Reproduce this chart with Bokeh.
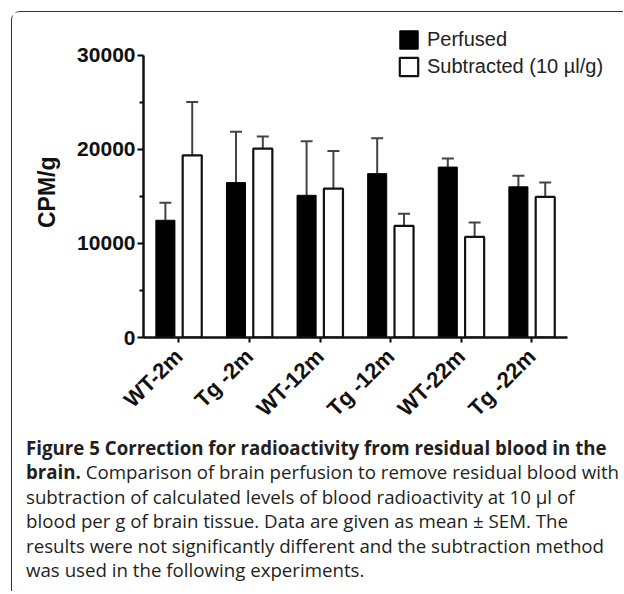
import math
from bokeh.plotting import figure
from bokeh.layouts import column
from bokeh.models import (ColumnDataSource, Range1d, FixedTicker, Legend, LegendItem,
                          Whisker, TeeHead, Div, Title)
from bokeh.transform import dodge
from bokeh.embed import file_html
from bokeh.resources import INLINE

# ---- data ----
groups = ["WT-2m", "Tg -2m", "WT-12m", "Tg -12m", "WT-22m", "Tg -22m"]
perfused = [12450, 16450, 15100, 17400, 18100, 16000]
perfused_sem = [1850, 5400, 5750, 3750, 920, 1170]
subtracted = [19350, 20050, 15800, 11850, 10680, 14930]
subtracted_sem = [5650, 1300, 4000, 1280, 1520, 1520]
y_ticks = [0, 10000, 20000, 30000]
y_minor = [5000, 15000, 25000]
y_label = "CPM/g"
series_names = ["Perfused", "Subtracted (10 \u00b5l/g)"]
caption_bold = ["Figure 5 Correction for radioactivity from residual blood in the", "brain."]
caption_lines = [
    "Comparison of brain perfusion to remove residual blood with",
    "subtraction of calculated levels of blood radioactivity at 10 \u00b5l of",
    "blood per g of brain tissue. Data are given as mean \u00b1 SEM. The",
    "results were not significantly different and the subtraction method",
    "was used in the following experiments.",
]

# group centres on a numeric axis (one unit per group)
xi = [i + 0.5 for i in range(len(groups))]

src = ColumnDataSource(dict(
    x=xi,
    p=perfused,
    p_hi=[v + e for v, e in zip(perfused, perfused_sem)],
    s=subtracted,
    s_hi=[v + e for v, e in zip(subtracted, subtracted_sem)],
))

W, H = 611, 424
p = figure(x_range=Range1d(0, 6.657), y_range=Range1d(0, 33240), width=W, height=H,
           min_border_left=131, min_border_right=10, min_border_top=12,
           min_border_bottom=99, output_backend="svg", toolbar_location=None,
           background_fill_color="white", border_fill_color="white")
p.outline_line_color = None
p.xgrid.grid_line_color = None
p.ygrid.grid_line_color = None

off = 0.19
bw = 0.27
r1 = p.vbar(x=dodge("x", -off), top="p", width=bw, source=src,
            fill_color="black", line_color="black", line_width=1)
r2 = p.vbar(x=dodge("x", off), top="s", width=bw, source=src,
            fill_color="white", line_color="#111111", line_width=2.2)

for col, hi, o in (("p", "p_hi", -off), ("s", "s_hi", off)):
    w = Whisker(base=dodge("x", o), lower=col, upper=hi, source=src,
                line_color="#444444", line_width=2,
                upper_head=TeeHead(size=12, line_color="#444444", line_width=2),
                lower_head=None)
    p.add_layout(w)

# axes
ax = p.yaxis[0]
ax.ticker = FixedTicker(ticks=y_ticks, minor_ticks=y_minor)
ax.bounds = (0, 30000)
ax.major_label_text_font = "Liberation Sans"
ax.major_label_text_font_style = "bold"
ax.major_label_text_font_size = "21px"
ax.major_label_text_color = "#111111"
ax.major_label_standoff = 2
ax.axis_line_width = 2.5
ax.axis_line_color = "#111111"
ax.major_tick_line_width = 2
ax.major_tick_out = 6
ax.major_tick_in = 0
ax.minor_tick_line_width = 2
ax.minor_tick_out = 4
ax.minor_tick_in = 0

xa = p.xaxis[0]
xa.ticker = FixedTicker(ticks=xi, minor_ticks=[])
xa.major_label_overrides = {x: g for x, g in zip(xi, groups)}
xa.bounds = (0, len(groups))
xa.major_label_orientation = math.pi / 4
xa.major_label_text_font = "Liberation Sans"
xa.major_label_text_font_style = "bold"
xa.major_label_text_font_size = "22px"
xa.major_label_text_color = "#111111"
xa.major_label_standoff = 10
xa.axis_line_width = 2.5
xa.axis_line_color = "#111111"
xa.major_tick_line_width = 2
xa.major_tick_out = 5
xa.major_tick_in = 0

# y-axis title placed in the left panel
p.add_layout(Title(text=y_label, align="right", offset=132, vertical_align="top",
                   standoff=25, text_font="Liberation Sans", text_font_style="bold",
                   text_font_size="23px", text_color="#111111"), "left")

legend = Legend(items=[LegendItem(label=series_names[0], renderers=[r1]),
                       LegendItem(label=series_names[1], renderers=[r2])],
                location=(254, 259), padding=0, margin=0, spacing=4,
                glyph_width=23, glyph_height=23, label_height=23,
                label_standoff=7, border_line_color=None,
                background_fill_alpha=0,
                label_text_font="Liberation Sans", label_text_font_size="20px",
                label_text_color="#222222")
p.add_layout(legend, "center")

# caption
html = ("<b>" + caption_bold[0] + "<br>" + caption_bold[1] + "</b> "
        + "<br>".join(caption_lines))
cap = Div(text=html, width=W - 5, height=155, margin=(0, 0, 0, 5),
          styles={"font-family": "'Open Sans', sans-serif", "font-size": "18.7px",
                  "line-height": "24.4px", "color": "#231f20", "white-space": "nowrap",
                  "padding-left": "9px", "overflow": "visible"})

layout = column(p, cap, spacing=0, margin=(11, 0, 0, 11),
                styles={"border-top": "1.5px solid #333333",
                        "border-left": "1.5px solid #333333",
                        "border-top-left-radius": "9px"})

open("out.html", "w").write(file_html(layout, INLINE))
